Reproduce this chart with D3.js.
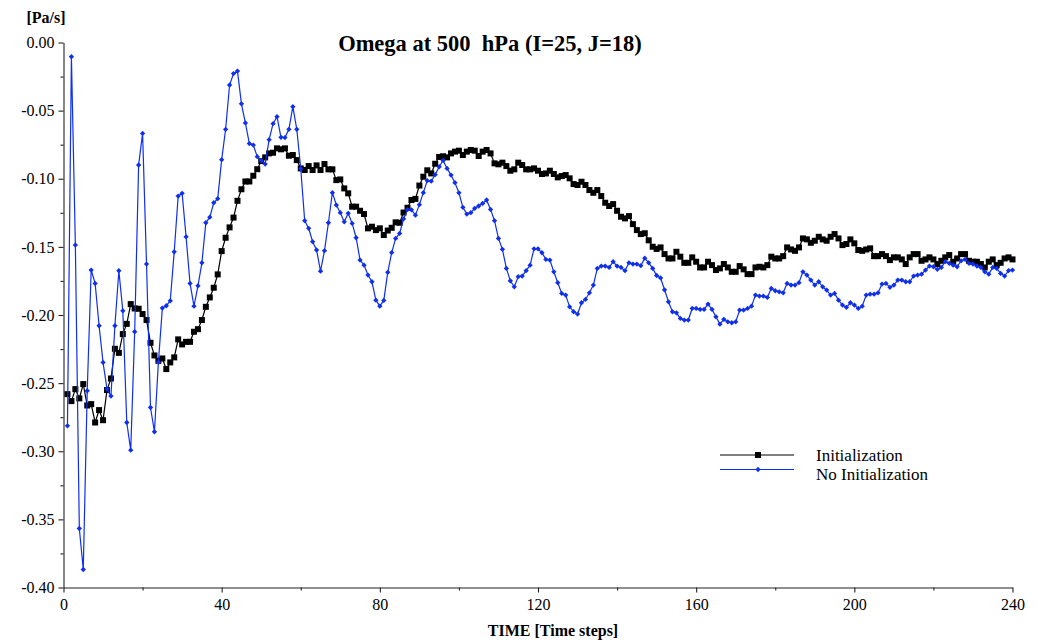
<!DOCTYPE html>
<html><head><meta charset="utf-8">
<script src="https://cdn.jsdelivr.net/npm/d3@7"></script>
<style>body{margin:0;background:#fff} svg{display:block}</style>
</head><body><svg id="c" width="1039" height="642"></svg>
<script>
const steps = d3.range(1, 241);
const initialization = [
-0.2581,-0.2632,-0.2544,-0.2612,-0.2507,-0.2664,-0.2654,-0.2789,-0.2698,-0.2772,
-0.2551,-0.2466,-0.2248,-0.2278,-0.2140,-0.2065,-0.1920,-0.1952,-0.1954,-0.1993,
-0.2037,-0.2204,-0.2297,-0.2336,-0.2319,-0.2397,-0.2348,-0.2311,-0.2179,-0.2216,
-0.2197,-0.2197,-0.2123,-0.2104,-0.2037,-0.1940,-0.1871,-0.1800,-0.1702,-0.1531,
-0.1433,-0.1357,-0.1285,-0.1162,-0.1077,-0.1020,-0.1020,-0.0978,-0.0930,-0.0870,
-0.0843,-0.0814,-0.0809,-0.0777,-0.0784,-0.0777,-0.0831,-0.0826,-0.0863,-0.0924,
-0.0936,-0.0907,-0.0936,-0.0902,-0.0936,-0.0892,-0.0931,-0.0931,-0.1010,-0.1005,
-0.1071,-0.1107,-0.1205,-0.1205,-0.1235,-0.1259,-0.1364,-0.1352,-0.1377,-0.1364,
-0.1413,-0.1380,-0.1360,-0.1320,-0.1323,-0.1248,-0.1213,-0.1156,-0.1148,-0.1050,
-0.0985,-0.0938,-0.0961,-0.0890,-0.0840,-0.0835,-0.0843,-0.0814,-0.0801,-0.0794,
-0.0826,-0.0801,-0.0789,-0.0794,-0.0833,-0.0801,-0.0789,-0.0814,-0.0887,-0.0894,
-0.0882,-0.0907,-0.0941,-0.0931,-0.0882,-0.0899,-0.0931,-0.0931,-0.0924,-0.0941,
-0.0965,-0.0961,-0.0941,-0.0965,-0.0990,-0.0980,-0.0973,-0.0997,-0.1039,-0.1046,
-0.1022,-0.1046,-0.1083,-0.1103,-0.1083,-0.1127,-0.1176,-0.1200,-0.1186,-0.1235,
-0.1279,-0.1291,-0.1274,-0.1333,-0.1377,-0.1406,-0.1400,-0.1452,-0.1499,-0.1515,
-0.1504,-0.1553,-0.1585,-0.1585,-0.1536,-0.1572,-0.1617,-0.1617,-0.1577,-0.1609,
-0.1651,-0.1651,-0.1609,-0.1634,-0.1670,-0.1658,-0.1626,-0.1651,-0.1683,-0.1683,
-0.1641,-0.1665,-0.1700,-0.1700,-0.1651,-0.1646,-0.1651,-0.1634,-0.1572,-0.1585,
-0.1585,-0.1568,-0.1504,-0.1519,-0.1529,-0.1504,-0.1438,-0.1445,-0.1470,-0.1455,
-0.1426,-0.1445,-0.1455,-0.1426,-0.1406,-0.1438,-0.1487,-0.1479,-0.1445,-0.1474,
-0.1523,-0.1529,-0.1519,-0.1511,-0.1568,-0.1568,-0.1553,-0.1568,-0.1597,-0.1577,
-0.1577,-0.1592,-0.1626,-0.1577,-0.1553,-0.1553,-0.1602,-0.1592,-0.1577,-0.1592,
-0.1626,-0.1602,-0.1577,-0.1560,-0.1609,-0.1585,-0.1553,-0.1553,-0.1602,-0.1609,
-0.1609,-0.1626,-0.1651,-0.1609,-0.1592,-0.1634,-0.1617,-0.1585,-0.1577,-0.1592
];
const noInitialization = [
-0.2813,-0.0104,-0.1487,-0.3567,-0.3868,-0.2556,-0.1670,-0.1768,-0.2079,-0.2348,
-0.2544,-0.2595,-0.2079,-0.1675,-0.1969,-0.2789,-0.2992,-0.2123,-0.0899,-0.0667,
-0.1626,-0.2679,-0.2857,-0.2346,-0.1949,-0.1932,-0.1896,-0.1536,-0.1127,-0.1107,
-0.1426,-0.1768,-0.1935,-0.1786,-0.1617,-0.1323,-0.1282,-0.1176,-0.1146,-0.0860,
-0.0637,-0.0312,-0.0228,-0.0210,-0.0450,-0.0590,-0.0742,-0.0753,-0.0838,-0.0866,
-0.0892,-0.0713,-0.0596,-0.0545,-0.0696,-0.0698,-0.0637,-0.0471,-0.0637,-0.0927,
-0.1308,-0.1364,-0.1462,-0.1523,-0.1678,-0.1528,-0.1323,-0.1102,-0.1193,-0.1249,
-0.1316,-0.1254,-0.1328,-0.1433,-0.1597,-0.1634,-0.1707,-0.1756,-0.1891,-0.1935,
-0.1893,-0.1687,-0.1542,-0.1438,-0.1401,-0.1295,-0.1226,-0.1228,-0.1267,-0.1190,
-0.1102,-0.1014,-0.1018,-0.0970,-0.0912,-0.0866,-0.0924,-0.0973,-0.1029,-0.1103,
-0.1210,-0.1259,-0.1249,-0.1217,-0.1200,-0.1181,-0.1156,-0.1225,-0.1308,-0.1438,
-0.1518,-0.1658,-0.1749,-0.1793,-0.1719,-0.1714,-0.1675,-0.1634,-0.1514,-0.1514,
-0.1543,-0.1592,-0.1597,-0.1683,-0.1763,-0.1842,-0.1854,-0.1940,-0.1976,-0.1993,
-0.1910,-0.1886,-0.1837,-0.1780,-0.1658,-0.1641,-0.1641,-0.1651,-0.1609,-0.1641,
-0.1651,-0.1675,-0.1617,-0.1626,-0.1626,-0.1638,-0.1583,-0.1617,-0.1658,-0.1710,
-0.1728,-0.1815,-0.1903,-0.1976,-0.1984,-0.2025,-0.2037,-0.2037,-0.1952,-0.1952,
-0.1959,-0.1959,-0.1920,-0.1959,-0.2013,-0.2067,-0.2032,-0.2050,-0.2057,-0.2050,
-0.1964,-0.1964,-0.1952,-0.1935,-0.1854,-0.1861,-0.1861,-0.1871,-0.1805,-0.1822,
-0.1830,-0.1837,-0.1768,-0.1780,-0.1780,-0.1763,-0.1683,-0.1707,-0.1744,-0.1780,
-0.1756,-0.1793,-0.1817,-0.1854,-0.1842,-0.1891,-0.1927,-0.1944,-0.1910,-0.1927,
-0.1952,-0.1935,-0.1854,-0.1847,-0.1847,-0.1837,-0.1773,-0.1768,-0.1797,-0.1780,
-0.1744,-0.1744,-0.1756,-0.1756,-0.1714,-0.1707,-0.1700,-0.1670,-0.1641,-0.1646,
-0.1665,-0.1651,-0.1609,-0.1621,-0.1634,-0.1646,-0.1602,-0.1592,-0.1621,-0.1626,
-0.1641,-0.1651,-0.1683,-0.1700,-0.1651,-0.1658,-0.1695,-0.1714,-0.1675,-0.1670
];
const seriesNames = ["Initialization", "No Initialization"];
const xMajorTicks = [0, 40, 80, 120, 160, 200, 240];
const xMinorTicks = [20, 60, 100, 140, 180, 220];
const yMajorTicks = [0, -0.05, -0.10, -0.15, -0.20, -0.25, -0.30, -0.35, -0.40];
const yMinorTicks = [-0.025, -0.075, -0.125, -0.175, -0.225, -0.275, -0.325, -0.375];
const titleText = "Omega at 500  hPa (I=25, J=18)";
const yUnitText = "[Pa/s]";
const xLabelText = "TIME [Time steps]";

const FONT = "'Liberation Serif','Times New Roman',Times,serif";
const BLUE = "#0f2fee";
const svg = d3.select("#c");
const x = d3.scaleLinear().domain([0, 240]).range([63.5, 1012.5]);
const y = d3.scaleLinear().domain([-0.40, 0]).range([587.5, 42.5]);

// axes
const gy = svg.append("g").attr("transform", `translate(${x(0)},0)`);
gy.call(d3.axisLeft(y).tickValues(yMajorTicks).tickFormat(d => d.toFixed(2)).tickSize(5).tickSizeOuter(0).tickPadding(4));
const gyMinor = svg.append("g").attr("transform", `translate(${x(0)},0)`);
gyMinor.call(d3.axisLeft(y).tickValues(yMinorTicks).tickFormat("").tickSize(3));
gyMinor.select(".domain").remove();

const gx = svg.append("g").attr("transform", `translate(0,${y(-0.40)})`);
gx.call(d3.axisBottom(x).tickValues(xMajorTicks).tickFormat(d3.format("d")).tickSize(5).tickSizeOuter(0).tickPadding(6));
const gxMinor = svg.append("g").attr("transform", `translate(0,${y(-0.40)})`);
gxMinor.call(d3.axisBottom(x).tickValues(xMinorTicks).tickFormat("").tickSize(3));
gxMinor.select(".domain").remove();

svg.selectAll(".tick text").attr("font-family", FONT).attr("font-size", 16).attr("fill", "#000");
svg.selectAll(".domain, .tick line").attr("stroke", "#222").attr("stroke-width", 1.1);

// titles
svg.append("text").attr("x", 490).attr("y", 51).attr("text-anchor", "middle")
  .attr("font-family", FONT).attr("font-weight", "bold").attr("font-size", 22.5)
  .style("white-space", "pre").text(titleText);
svg.append("text").attr("x", 46).attr("y", 23).attr("text-anchor", "middle")
  .attr("font-family", FONT).attr("font-weight", "bold").attr("font-size", 16).text(yUnitText);
svg.append("text").attr("x", 553).attr("y", 636).attr("text-anchor", "middle")
  .attr("font-family", FONT).attr("font-weight", "bold").attr("font-size", 16).text(xLabelText);

// series
const dataA = steps.map((s, i) => ({s, v: initialization[i]}));
const dataB = steps.map((s, i) => ({s, v: noInitialization[i]}));
const line = d3.line().x(d => x(d.s)).y(d => y(d.v));

svg.append("path").datum(dataA).attr("d", line).attr("fill", "none").attr("stroke", "#000").attr("stroke-width", 1.2);
svg.append("g").selectAll("rect").data(dataA).join("rect")
  .attr("x", d => x(d.s) - 3).attr("y", d => y(d.v) - 3).attr("width", 6).attr("height", 6).attr("fill", "#000");

svg.append("path").datum(dataB).attr("d", line).attr("fill", "none").attr("stroke", BLUE).attr("stroke-width", 1.2);
const diamond = d3.symbol(d3.symbolSquare, 14);
svg.append("g").selectAll("path").data(dataB).join("path")
  .attr("d", diamond).attr("transform", d => `translate(${x(d.s)},${y(d.v)}) rotate(45)`).attr("fill", BLUE);

// legend
const lg = svg.append("g");
const legendRows = [
  {name: seriesNames[0], color: "#000", yy: 455, ty: 460.5, marker: "square"},
  {name: seriesNames[1], color: BLUE, yy: 469.5, ty: 479.5, marker: "diamond"}
];
legendRows.forEach(r => {
  lg.append("line").attr("x1", 720).attr("x2", 794).attr("y1", r.yy).attr("y2", r.yy)
    .attr("stroke", r.color).attr("stroke-width", 1.2);
  if (r.marker === "square") {
    lg.append("rect").attr("x", 758 - 3).attr("y", r.yy - 3).attr("width", 6).attr("height", 6).attr("fill", r.color);
  } else {
    lg.append("path").attr("d", diamond).attr("transform", `translate(758,${r.yy}) rotate(45)`).attr("fill", r.color);
  }
  lg.append("text").attr("x", 816).attr("y", r.ty).attr("font-family", FONT).attr("font-size", 17)
    .attr("fill", "#000").text(r.name);
});
</script></body></html>
